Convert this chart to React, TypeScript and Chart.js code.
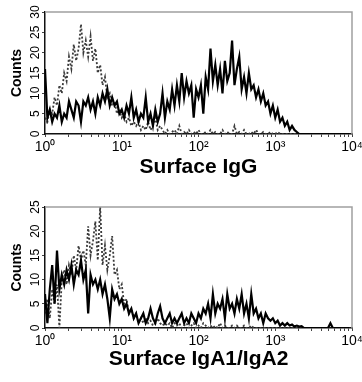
import React, { useEffect, useRef } from 'react';
import { Chart, registerables } from 'chart.js';

Chart.register(...registerables);

// ---- data (channel-indexed histograms, 32 channels per decade, 10^0 .. 10^4) ----
const DECADE_LABELS = ['10⁰', '10¹', '10²', '10³', '10⁴'];
const CHANNELS_PER_DECADE = 32;
const MINOR_MULTIPLIERS = [2, 3, 4, 5, 6, 7, 8, 9];

const IGG_SAMPLE = [
  16, 4, 6, 3, 5, 4, 7, 3, 5, 4,
  8, 6, 4, 8, 7, 3, 8, 7, 9, 6,
  8, 5, 9, 7, 10, 8, 11, 7, 9, 7,
  8, 5, 6, 4, 7, 5, 9, 4, 6, 3,
  5, 4, 9, 3, 5, 2, 6, 3, 5, 10,
  4, 8, 6, 11, 7, 12, 8, 15, 9, 13,
  10, 12, 4, 11, 9, 12, 5, 14, 11, 21,
  13, 17, 12, 16, 10, 18, 13, 15, 23, 12,
  16, 19, 11, 14, 10, 15, 11, 12, 9, 11,
  8, 10, 7, 8, 5, 7, 4, 6, 3, 4,
  2, 3, 1, 2, 1, 0.5, 0, 0, 0, 0,
  0, 0, 0, 0, 0, 0, 0, 0, 0, 0,
  0, 0, 0, 0, 0, 0, 0, 0,
];

const IGG_CONTROL = [
  4, 3, 6, 5, 9, 7, 12, 10, 15, 13,
  19, 16, 22, 18, 21, 27, 20, 23, 19, 24,
  18, 21, 15, 17, 12, 14, 9, 10, 7, 8,
  5, 6, 4, 5, 3, 4, 2, 3, 2, 3,
  1, 2, 1, 3, 1, 2, 4, 1, 2, 1,
  0, 1, 0, 0.5, 1, 0, 2, 0, 0.5, 0,
  1, 0, 0.5, 0, 1, 0, 0, 0.5, 0, 1,
  0, 0.5, 0, 0, 1, 0, 0.5, 0, 0, 2,
  0, 0.5, 0, 1, 0, 0, 0.5, 0, 1, 0,
  0, 0.5, 0, 0, 0.5, 0, 0, 0.5, 0, 0,
  0, 0, 0, 0, 0, 0, 0, 0, 0, 0,
  0, 0, 0, 0, 0, 0, 0, 0, 0, 0,
  0, 0, 0, 0, 0, 0, 0, 0,
];

const IGA_SAMPLE = [
  7, 1, 8, 13, 5, 16, 8, 11, 9, 12,
  10, 13, 9, 12, 11, 14, 10, 12, 3, 11,
  9, 10, 8, 10, 7, 9, 6, 2, 8, 6,
  7, 5, 6, 4, 5, 3, 4, 2, 3, 1,
  2, 3, 1, 2, 4, 2, 1, 3, 4.5, 2,
  1, 2, 3, 1, 2, 1, 2, 3, 1, 2,
  1, 3, 2, 1, 3, 2, 4, 3, 5, 2,
  7, 3, 5, 4, 6, 2, 7, 4, 5, 3,
  6, 4, 7, 3, 5, 2, 7, 3, 4, 2,
  3, 1, 3, 2, 1.5, 2, 1, 1.5, 0.5, 1,
  0.5, 1, 0.5, 0.7, 0.3, 0.5, 0.3, 0.4, 0, 0,
  0, 0, 0, 0, 0, 0, 0, 0, 0, 1,
  0, 0, 0, 0, 0, 0, 0, 0,
];

const IGA_CONTROL = [
  3, 6, 2, 8, 5, 9, 0, 10, 12, 9,
  13, 11, 15, 12, 17, 14, 16, 13, 21, 15,
  18, 22, 14, 25, 13, 17, 12, 15, 19, 11,
  12, 8, 9, 5, 6, 3, 4, 2, 3, 1,
  2, 1, 2, 1, 1.5, 0.5, 1, 2, 1, 0.5,
  1, 0.5, 1, 0, 1, 0.5, 1, 0, 0.5, 1,
  0, 0.5, 1, 0, 0.5, 0, 1, 0.5, 0, 0.5,
  0, 0.5, 0, 1, 0, 0.5, 0, 0, 0.5, 0,
  0.5, 0, 0, 0.5, 0, 0, 0.5, 0, 0, 0,
  0, 0, 0, 0, 0, 0, 0, 0, 0, 0,
  0, 0, 0, 0, 0, 0, 0, 0, 0, 0,
  0, 0, 0, 0, 0, 0, 0, 0, 0, 0,
  0, 0, 0, 0, 0, 0, 0, 0,
];

const CHANNELS = IGG_SAMPLE.map((_, i) => i);
const MAX_CHANNEL = CHANNELS_PER_DECADE * (DECADE_LABELS.length - 1);

const X_TICKS: number[] = [];
DECADE_LABELS.forEach((_, d) => {
  X_TICKS.push(d * CHANNELS_PER_DECADE);
  if (d < DECADE_LABELS.length - 1) {
    MINOR_MULTIPLIERS.forEach((k) => X_TICKS.push(CHANNELS_PER_DECADE * (d + Math.log10(k))));
  }
});

const FONT = "'Liberation Sans', Arial, Helvetica, sans-serif";

const framePlugin = {
  id: 'frameTopRight',
  afterDatasetsDraw(chart: any) {
    const { ctx, chartArea } = chart;
    const { left, top, right, bottom } = chartArea;
    ctx.save();
    ctx.strokeStyle = '#a0a0a0';
    ctx.lineWidth = 1.5;
    ctx.beginPath();
    ctx.moveTo(left, top);
    ctx.lineTo(right, top);
    ctx.lineTo(right, bottom);
    ctx.stroke();
    ctx.restore();
  },
};

type PanelProps = {
  sample: number[];
  control: number[];
  yMax: number;
  title: string;
  width: number;
  height: number;
  padTop: number;
  axisHeight: number;
  top: number;
};

function HistogramPanel(p: PanelProps) {
  const ref = useRef<HTMLCanvasElement | null>(null);
  useEffect(() => {
    if (!ref.current) return;
    const chart = new Chart(ref.current, {
      type: 'line',
      data: {
        labels: CHANNELS,
        datasets: [
          {
            data: p.sample,
            borderColor: '#000',
            borderWidth: 2.2,
            pointRadius: 0,
            tension: 0,
            fill: false,
          },
          {
            data: p.control,
            borderColor: '#3a3a3a',
            borderWidth: 1.8,
            borderDash: [2, 2],
            pointRadius: 0,
            tension: 0,
            fill: false,
          },
        ],
      },
      options: {
        responsive: false,
        animation: false,
        layout: { padding: { top: p.padTop, left: 0, right: 10, bottom: 0 } },
        plugins: { legend: { display: false }, tooltip: { enabled: false } },
        scales: {
          x: {
            type: 'linear',
            min: 0,
            max: MAX_CHANNEL,
            afterBuildTicks: (s: any) => {
              s.ticks = X_TICKS.map((v) => ({ value: v }));
            },
            afterFit: (s: any) => {
              s.height = p.axisHeight;
              s.paddingLeft = 0;
              s.paddingRight = 0;
            },
            grid: { display: true, drawOnChartArea: false, tickLength: 3, color: '#444' },
            border: { display: true, color: '#111', width: 1.5 },
            ticks: {
              autoSkip: false,
              maxRotation: 0,
              minRotation: 0,
              padding: 2,
              color: '#000',
              font: { family: FONT, size: 14 },
              callback: (v: any) => {
                const d = Number(v) / CHANNELS_PER_DECADE;
                return Math.abs(d - Math.round(d)) < 1e-6 ? DECADE_LABELS[Math.round(d)] : '';
              },
            },
            title: {
              display: true,
              text: p.title,
              color: '#000',
              font: { family: FONT, size: 21, weight: 'bold' },
              padding: { top: 0, bottom: 10.5 },
            },
          },
          y: {
            min: 0,
            max: p.yMax,
            afterFit: (s: any) => {
              s.width = 45;
              s.paddingTop = 0;
              s.paddingBottom = 0;
            },
            grid: { display: true, drawOnChartArea: false, tickLength: 3, color: '#444' },
            border: { display: true, color: '#111', width: 1.5 },
            ticks: {
              stepSize: 5,
              minRotation: 90,
              maxRotation: 90,
              crossAlign: 'center',
              padding: 0,
              color: '#000',
              font: { family: FONT, size: 12 },
            },
            title: {
              display: true,
              text: 'Counts',
              color: '#000',
              font: { family: FONT, size: 14, weight: 'bold' },
              padding: { top: 8.6, bottom: 0 },
            },
          },
        },
      } as any,
      plugins: [framePlugin],
    });
    return () => chart.destroy();
  }, []);
  return (
    <canvas
      ref={ref}
      width={p.width}
      height={p.height}
      style={{ position: 'absolute', left: 0, top: p.top, width: p.width, height: p.height }}
    />
  );
}

export default function App() {
  return (
    <div style={{ position: 'absolute', left: 0, top: 0, width: 362, height: 382, background: '#fff' }}>
      <HistogramPanel
        sample={IGG_SAMPLE}
        control={IGG_CONTROL}
        yMax={30}
        title="Surface IgG"
        width={362}
        height={190}
        padTop={12}
        axisHeight={56}
        top={0}
      />
      <HistogramPanel
        sample={IGA_SAMPLE}
        control={IGA_CONTROL}
        yMax={25}
        title="Surface IgA1/IgA2"
        width={362}
        height={192}
        padTop={17}
        axisHeight={54}
        top={190}
      />
    </div>
  );
}
